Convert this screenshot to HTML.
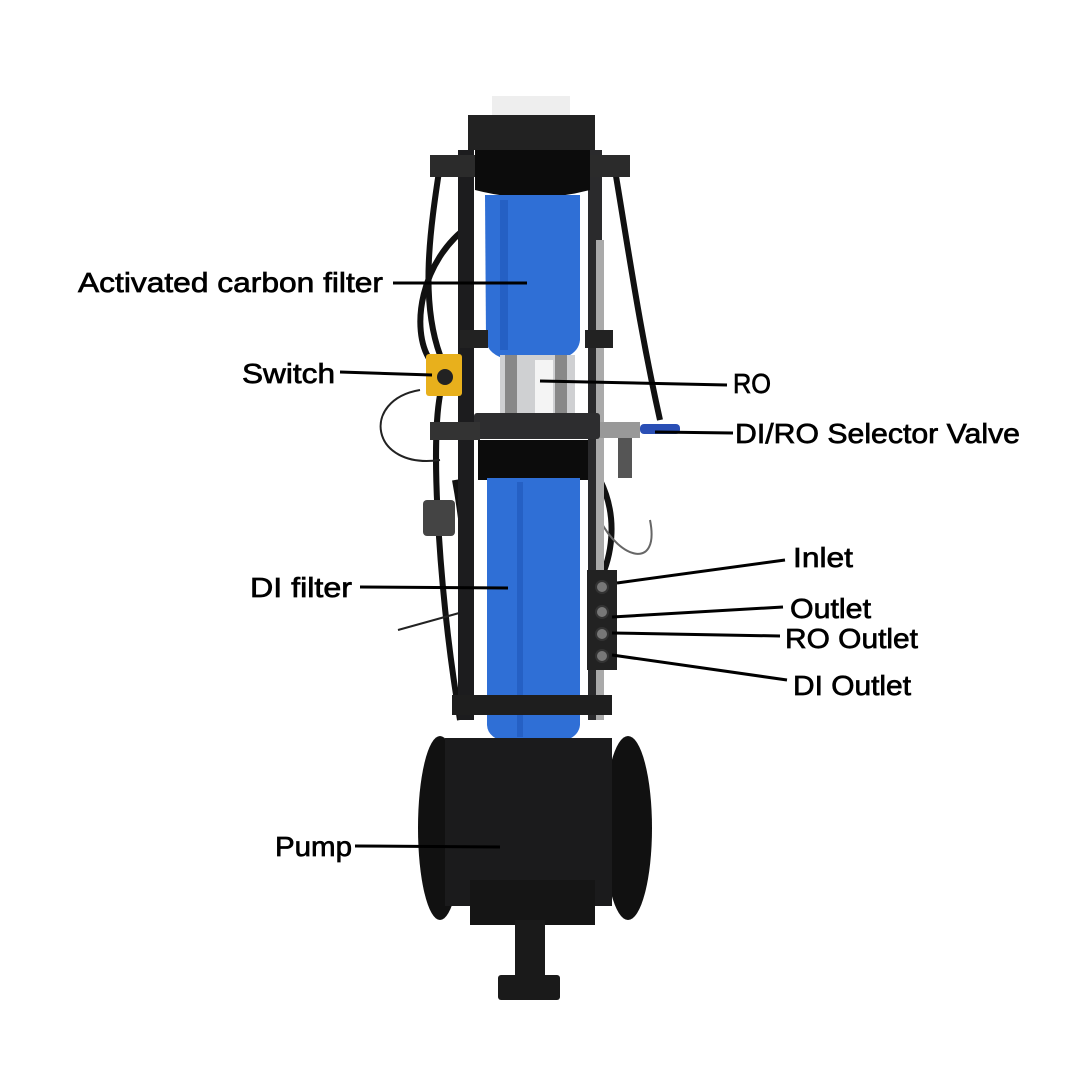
<!DOCTYPE html>
<html><head><style>
html,body{margin:0;padding:0;background:#fff}
svg{display:block}
text{font-family:"Liberation Sans",sans-serif;font-size:28px;fill:#000;stroke:#000;stroke-width:0.7}
</style></head><body>
<svg width="1080" height="1080" viewBox="0 0 1080 1080" xmlns="http://www.w3.org/2000/svg">
<rect width="1080" height="1080" fill="#fff"/>
<g fill="none" stroke="#111" stroke-width="6">
<path d="M440 165 C430 230 420 300 440 355"/>
<path d="M470 225 C420 260 410 330 430 360"/>
<path d="M615 170 C630 260 640 330 660 420"/>
<path d="M440 395 C430 450 440 600 460 720"/>
<path d="M455 480 C470 560 470 650 470 720"/>
<path d="M600 480 C620 520 610 560 600 580"/>
</g>
<path d="M420 390 C360 400 370 470 440 460" fill="none" stroke="#222" stroke-width="2"/>
<path d="M398 630 L470 610" stroke="#222" stroke-width="2"/>
<path d="M600 520 C620 560 660 570 650 520" fill="none" stroke="#666" stroke-width="2"/>
<rect x="458" y="150" width="16" height="570" fill="#1c1c1e"/>
<rect x="588" y="150" width="14" height="570" fill="#2a2a2c"/>
<rect x="596" y="240" width="8" height="480" fill="#aaa"/>
<rect x="492" y="96" width="78" height="22" fill="#eee"/>
<rect x="468" y="115" width="127" height="35" fill="#222"/>
<rect x="430" y="155" width="50" height="22" fill="#2b2b2b"/>
<rect x="590" y="155" width="40" height="22" fill="#2b2b2b"/>
<path d="M475 150 H590 V190 Q533 205 475 190Z" fill="#0c0c0c"/>
<path d="M485 195 H580 V340 Q578 362 533 362 Q488 362 486 340Z" fill="#2f6fd6"/>
<rect x="500" y="200" width="8" height="150" fill="#2560c4"/>
<rect x="500" y="355" width="75" height="65" fill="#cfd0d2"/>
<rect x="505" y="355" width="12" height="65" fill="#888"/>
<rect x="555" y="355" width="12" height="65" fill="#888"/>
<rect x="535" y="360" width="18" height="60" fill="#f4f4f4"/>
<rect x="460" y="330" width="28" height="18" fill="#222"/>
<rect x="585" y="330" width="28" height="18" fill="#222"/>
<rect x="426" y="354" width="36" height="42" rx="3" fill="#e8b01c"/>
<circle cx="445" cy="377" r="8" fill="#222"/>
<rect x="474" y="413" width="126" height="26" rx="3" fill="#2d2d2f"/>
<rect x="430" y="422" width="50" height="18" fill="#333"/>
<rect x="600" y="422" width="40" height="16" fill="#999"/>
<rect x="640" y="424" width="40" height="10" rx="4" fill="#2a4fb5"/>
<rect x="618" y="438" width="14" height="40" fill="#555"/>
<rect x="478" y="440" width="110" height="40" fill="#0c0c0c"/>
<path d="M487 478 H580 V725 Q578 745 533 745 Q488 745 487 725Z" fill="#2f6fd6"/>
<rect x="517" y="482" width="6" height="255" fill="#2560c4"/>
<rect x="423" y="500" width="32" height="36" rx="4" fill="#444"/>
<rect x="587" y="570" width="30" height="100" fill="#222"/>
<g fill="#777" stroke="#333" stroke-width="2">
<circle cx="602" cy="587" r="6"/><circle cx="602" cy="612" r="6"/><circle cx="602" cy="634" r="6"/><circle cx="602" cy="656" r="6"/>
</g>
<rect x="452" y="695" width="160" height="20" fill="#1e1e1e"/>
<ellipse cx="440" cy="828" rx="22" ry="92" fill="#111"/>
<ellipse cx="628" cy="828" rx="24" ry="92" fill="#111"/>
<rect x="445" y="738" width="167" height="168" fill="#1b1b1c"/>
<rect x="470" y="880" width="125" height="45" fill="#151515"/>
<rect x="515" y="920" width="30" height="60" fill="#1a1a1a"/>
<rect x="498" y="975" width="62" height="25" rx="3" fill="#1a1a1a"/>
<g stroke="#000" stroke-width="3">
<line x1="393" y1="283" x2="527" y2="283"/>
<line x1="340" y1="372" x2="432" y2="375"/>
<line x1="540" y1="381" x2="727" y2="385"/>
<line x1="655" y1="432" x2="733" y2="433"/>
<line x1="617" y1="583" x2="785" y2="560"/>
<line x1="612" y1="617" x2="783" y2="607"/>
<line x1="612" y1="633" x2="780" y2="636"/>
<line x1="612" y1="655" x2="787" y2="680"/>
<line x1="360" y1="587" x2="508" y2="588"/>
<line x1="355" y1="846" x2="500" y2="847"/>
</g>
<text x="78" y="292" textLength="305" lengthAdjust="spacingAndGlyphs">Activated carbon filter</text>
<text x="242" y="383" textLength="93" lengthAdjust="spacingAndGlyphs">Switch</text>
<text x="733" y="393" textLength="38" lengthAdjust="spacingAndGlyphs">RO</text>
<text x="735" y="443" textLength="285" lengthAdjust="spacingAndGlyphs">DI/RO Selector Valve</text>
<text x="793" y="567" textLength="60" lengthAdjust="spacingAndGlyphs">Inlet</text>
<text x="790" y="618" textLength="81" lengthAdjust="spacingAndGlyphs">Outlet</text>
<text x="785" y="648" textLength="133" lengthAdjust="spacingAndGlyphs">RO Outlet</text>
<text x="793" y="695" textLength="118" lengthAdjust="spacingAndGlyphs">DI Outlet</text>
<text x="250" y="597" textLength="102" lengthAdjust="spacingAndGlyphs">DI filter</text>
<text x="275" y="856" textLength="77" lengthAdjust="spacingAndGlyphs">Pump</text>
</svg>
</body></html>
